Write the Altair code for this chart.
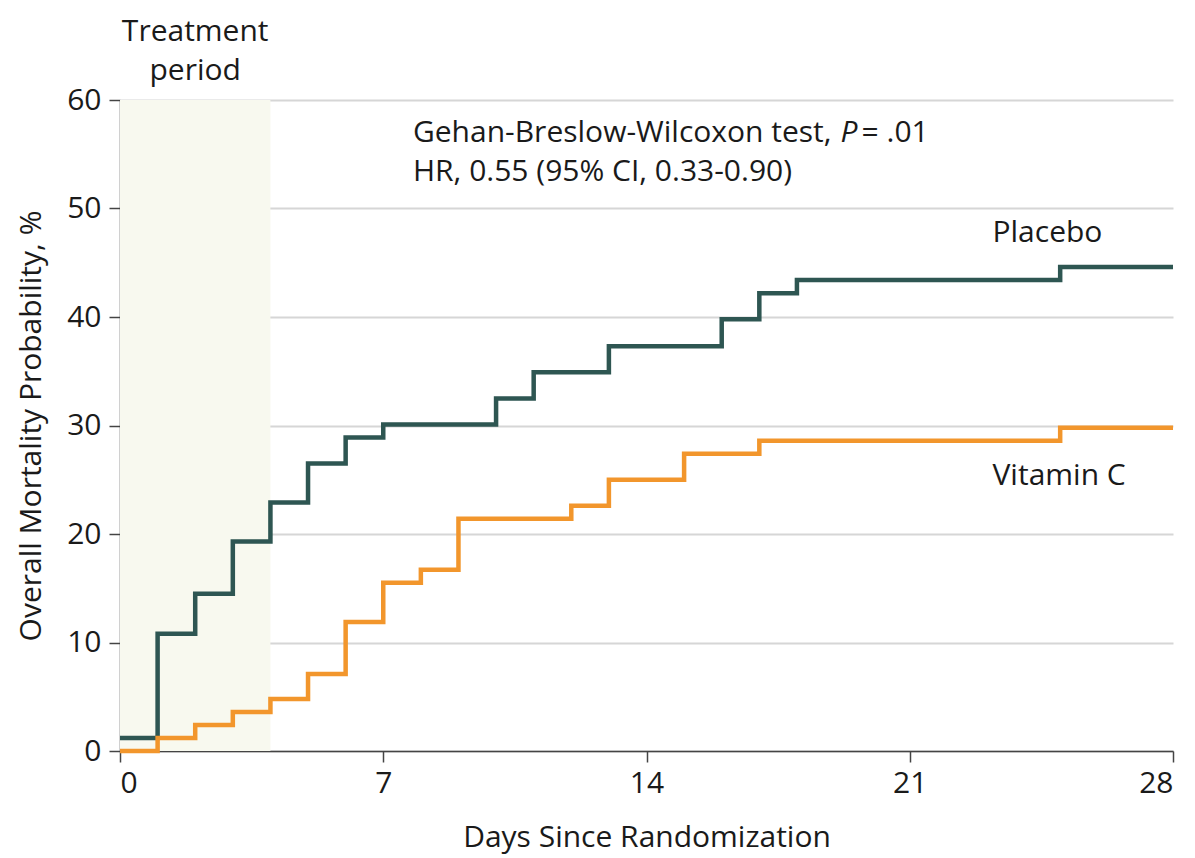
import altair as alt
import pandas as pd

# Kaplan-Meier style step data (day, cumulative mortality %)
placebo_days = [0, 1, 2, 3, 4, 5, 6, 7, 10, 11, 13, 16, 17, 18, 25, 28]
placebo_vals = [1.2, 10.8, 14.5, 19.3, 22.9, 26.5, 28.9, 30.1, 32.5, 34.9, 37.3, 39.8, 42.2, 43.4, 44.6, 44.6]
vitc_days = [0, 1, 2, 3, 4, 5, 6, 7, 8, 9, 12, 13, 15, 17, 25, 28]
vitc_vals = [0.0, 1.2, 2.4, 3.6, 4.8, 7.1, 11.9, 15.5, 16.7, 21.4, 22.6, 25.0, 27.4, 28.6, 29.8, 29.8]

x_ticks = [0, 7, 14, 21, 28]
y_ticks = [0, 10, 20, 30, 40, 50, 60]

treat_start, treat_end = 0, 4

df = pd.concat([
    pd.DataFrame({"day": placebo_days, "mort": placebo_vals, "group": "Placebo"}),
    pd.DataFrame({"day": vitc_days, "mort": vitc_vals, "group": "Vitamin C"}),
])

FONT = "Open Sans"
FS = 30
TXT = "#1a1a1a"

xs = alt.Scale(domain=[0, 28], nice=False, zero=False)
ys = alt.Scale(domain=[0, 60], nice=False)

shade = alt.Chart(pd.DataFrame({"a": [treat_start], "b": [treat_end], "y0": [0], "y1": [60]})).mark_rect(
    color="#f8f9ef"
).encode(
    x=alt.X("a:Q", scale=xs), x2="b:Q",
    y=alt.Y("y0:Q", scale=ys), y2="y1:Q",
)

lines = alt.Chart(df).mark_line(interpolate="step-after", strokeWidth=4.5, strokeCap="butt", strokeJoin="miter").encode(
    x=alt.X("day:Q", scale=xs,
            axis=alt.Axis(values=x_ticks, title="Days Since Randomization", grid=False,
                          titlePadding=24, labelPadding=6)),
    y=alt.Y("mort:Q", scale=ys,
            axis=alt.Axis(values=y_ticks, title="Overall Mortality Probability, %", grid=True,
                          titlePadding=20, labelPadding=8)),
    color=alt.Color("group:N", scale=alt.Scale(domain=["Placebo", "Vitamin C"],
                                               range=["#2e5652", "#f2962c"]), legend=None),
)

labels = pd.DataFrame({
    "day": [23.2, 23.2],
    "mort": [47.7, 25.3],
    "txt": ["Placebo", "Vitamin C"],
})
label_layer = alt.Chart(labels).mark_text(align="left", baseline="middle", font=FONT, fontSize=FS, color=TXT).encode(
    x=alt.X("day:Q", scale=xs), y=alt.Y("mort:Q", scale=ys), text="txt:N"
)

ann = pd.DataFrame({
    "day": [7.79, 7.79],
    "mort": [57.0, 53.4],
    "txt": ["Gehan-Breslow-Wilcoxon test,", "HR, 0.55 (95% CI, 0.33-0.90)"],
})
ann_layer = alt.Chart(ann).mark_text(align="left", baseline="middle", font=FONT, fontSize=FS, color=TXT).encode(
    x=alt.X("day:Q", scale=xs), y=alt.Y("mort:Q", scale=ys), text="txt:N"
)
p_layer = alt.Chart(pd.DataFrame({"day": [19.16], "mort": [57.0], "txt": ["P"]})).mark_text(
    align="left", baseline="middle", font=FONT, fontSize=FS, fontStyle="italic", color=TXT
).encode(x=alt.X("day:Q", scale=xs), y=alt.Y("mort:Q", scale=ys), text="txt:N")
p2_layer = alt.Chart(pd.DataFrame({"day": [19.72], "mort": [57.0], "txt": ["= .01"]})).mark_text(
    align="left", baseline="middle", font=FONT, fontSize=FS, color=TXT
).encode(x=alt.X("day:Q", scale=xs), y=alt.Y("mort:Q", scale=ys), text="txt:N")

treat = pd.DataFrame({"day": [2, 2], "mort": [66.3, 62.7], "txt": ["Treatment", "period"]})
treat_layer = alt.Chart(treat).mark_text(align="center", baseline="middle", font=FONT, fontSize=FS, color=TXT).encode(
    x=alt.X("day:Q", scale=xs), y=alt.Y("mort:Q", scale=ys), text="txt:N"
)

chart = alt.layer(shade, lines, label_layer, ann_layer, p_layer, p2_layer, treat_layer).properties(
    width=1053, height=651,
    autosize=alt.AutoSizeParams(type="none"),
    padding={"left": 112, "top": 92, "right": 14, "bottom": 107},
).configure_view(stroke=None).configure_axis(
    labelFont=FONT, labelFontSize=FS, labelColor=TXT,
    titleFont=FONT, titleFontSize=FS, titleFontWeight="normal", titleColor=TXT,
    domainColor="#444444", domainWidth=1.5, tickColor="#444444", tickWidth=1.5, tickSize=11,
    gridColor="#d6d6d6", gridWidth=2,
)

chart.save("out.html", embed_options={"renderer": "svg", "actions": False})
